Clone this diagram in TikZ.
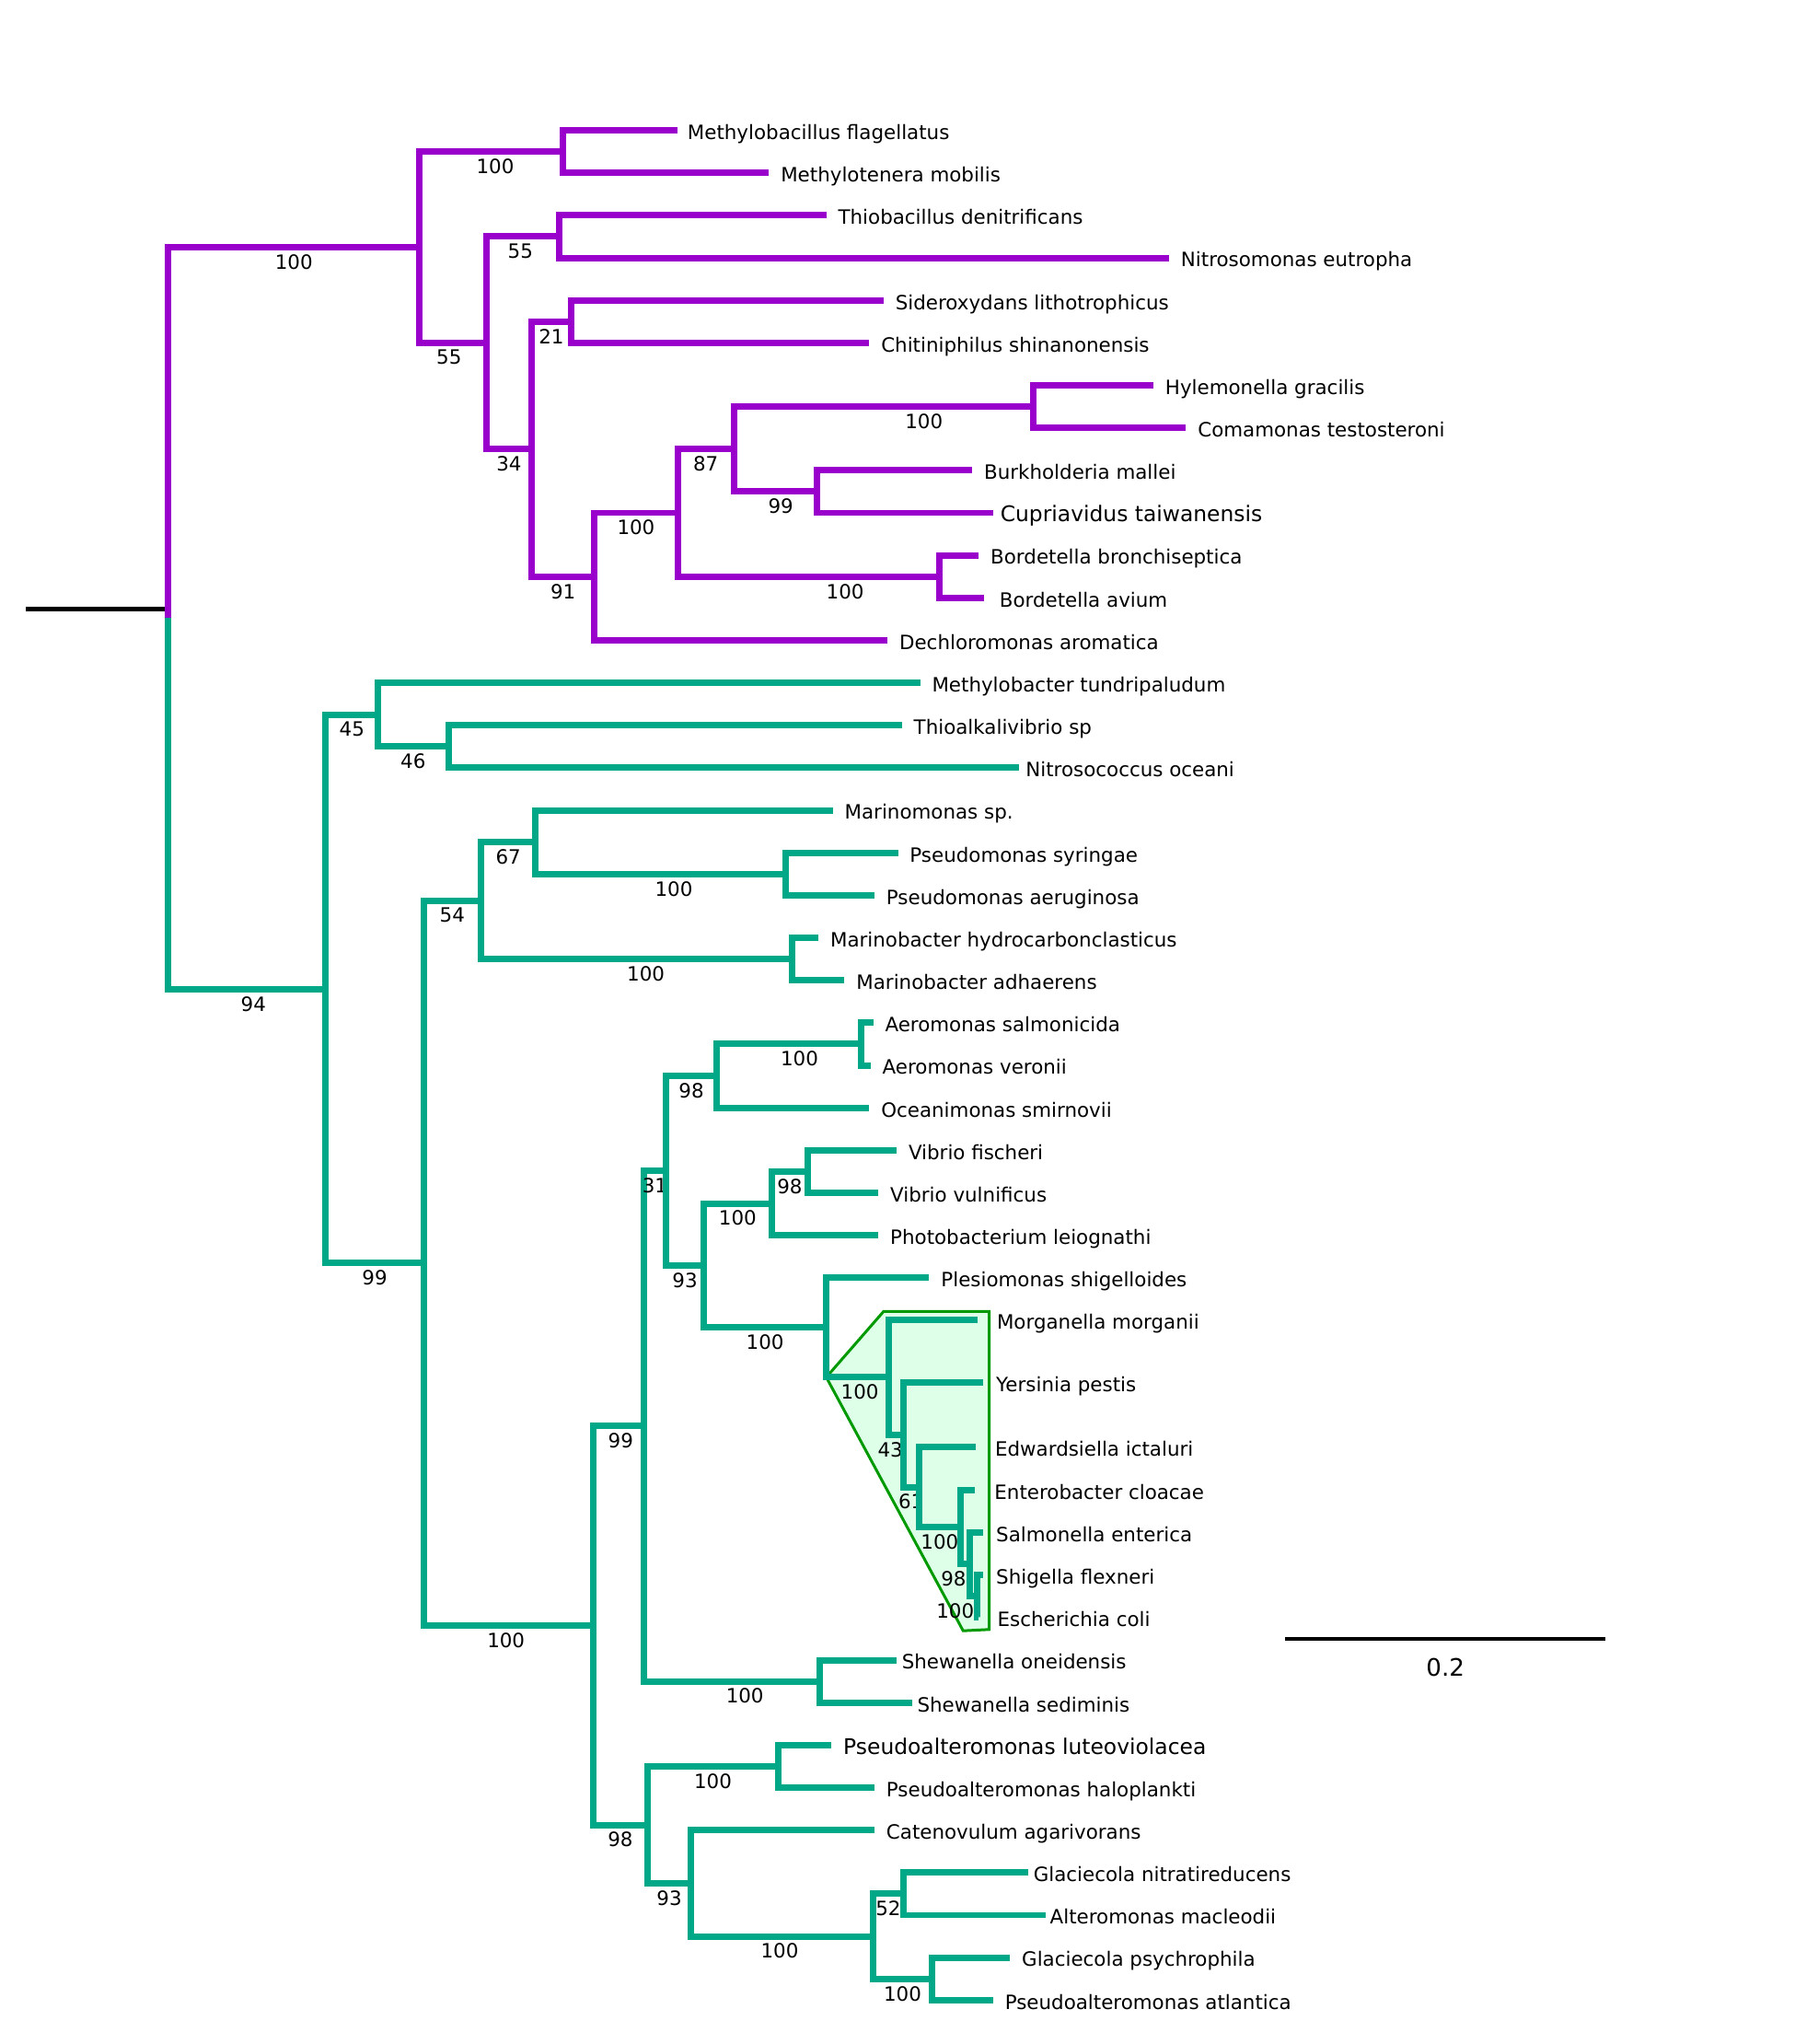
\documentclass[tikz,border=0pt]{standalone}
\usepackage{fontspec}
\setmainfont{DejaVu Sans}
\usetikzlibrary{positioning}
\definecolor{purp}{RGB}{153,0,204}
\definecolor{bgreen}{RGB}{0,168,136}
\definecolor{boxfill}{RGB}{222,255,232}
\definecolor{boxline}{RGB}{0,153,0}
\newcommand{\leaffont}{\fontsize{8.6}{10}\selectfont}
\newcommand{\bigleaffont}{\fontsize{9.4}{11}\selectfont}
\newcommand{\barfont}{\fontsize{10.5}{12}\selectfont}

\begin{document}
\begin{tikzpicture}[x=0.02cm, y=-0.02cm, every node/.style={font=\leaffont},
    leaf/.style={anchor=west, inner xsep=5pt, inner ysep=0pt, text height=8.4pt, text depth=0.5pt},
    bigleaf/.style={leaf, font=\bigleaffont, inner xsep=3pt},
    bs/.style={pos=0.75, below=0.8pt, inner sep=1pt},
    pbr/.style={draw=purp, line width=2.8pt},
    gbr/.style={draw=bgreen, line width=2.8pt}]
    \useasboundingbox (0,0) rectangle (1377,1568);
    % Internal nodes
    \coordinate (stem) at (20,467);
    \coordinate (root) at (129,474.2);
    \coordinate (n55a) at (322,189.7);
    \coordinate (mB) at (432,116.3);
    \coordinate (n55b) at (373,263);
    \coordinate (tN) at (429,181.5);
    \coordinate (n91) at (408,344.5);
    \coordinate (sC) at (438,246.7);
    \coordinate (betaB) at (456,442.3);
    \coordinate (betaA) at (520,393.4);
    \coordinate (hB) at (563,344.5);
    \coordinate (hC) at (793,311.9);
    \coordinate (bC) at (627,377.1);
    \coordinate (bord) at (721,442.3);
    \coordinate (g94) at (250,758.7);
    \coordinate (g45) at (290,548.3);
    \coordinate (thio) at (344,572.7);
    \coordinate (g99b) at (325,969);
    \coordinate (g54) at (369,690.9);
    \coordinate (mar67) at (411,646);
    \coordinate (psy) at (603,670.5);
    \coordinate (mbac) at (608,735.7);
    \coordinate (g100e) at (455,1247);
    \coordinate (g99c) at (494,1094);
    \coordinate (g31) at (511,898.1);
    \coordinate (g98a) at (550,825.4);
    \coordinate (aer) at (661,800.9);
    \coordinate (g93) at (540,970.8);
    \coordinate (g100v) at (592,923.2);
    \coordinate (vib) at (620,898.7);
    \coordinate (ple) at (634,1018.4);
    \coordinate (ent) at (682,1056.5);
    \coordinate (e1) at (693,1100.6);
    \coordinate (e2) at (705,1140.7);
    \coordinate (e3) at (737,1171.5);
    \coordinate (e4) at (744,1199.9);
    \coordinate (e5) at (750,1224.3);
    \coordinate (shew) at (629,1289.8);
    \coordinate (g98d) at (497,1399.9);
    \coordinate (pal) at (597,1355);
    \coordinate (cat) at (530,1444.7);
    \coordinate (alt) at (670,1485.4);
    \coordinate (gla1) at (693,1452.8);
    \coordinate (gla2) at (715,1518);
    % Enterobacteria box
    \filldraw[fill=boxfill, draw=boxline, line width=1.2pt] (ple |- ent) -- (678,1006) -- (759,1006) -- (759,1250) -- (739,1251) -- cycle;
    % Leaves
    \node[leaf, inner xsep=4.1pt] (mfla) at (520,100) {Methylobacillus flagellatus};
    \node[leaf] (mmob) at (590,132.6) {Methylotenera mobilis};
    \node[leaf] (tden) at (634,165.2) {Thiobacillus denitrificans};
    \node[leaf] (neut) at (897,197.8) {Nitrosomonas eutropha};
    \node[leaf] (slit) at (678,230.4) {Sideroxydans lithotrophicus};
    \node[leaf] (cshi) at (667,263) {Chitiniphilus shinanonensis};
    \node[leaf] (hgra) at (885,295.6) {Hylemonella gracilis};
    \node[leaf] (ctes) at (910,328.2) {Comamonas testosteroni};
    \node[leaf] (bmal) at (746,360.8) {Burkholderia mallei};
    \node[bigleaf] (ctai) at (762,393.4) {Cupriavidus taiwanensis};
    \node[leaf] (bbro) at (751,426) {Bordetella bronchiseptica};
    \node[leaf, inner xsep=6.6pt] (bavi) at (755,458.6) {Bordetella avium};
    \node[leaf] (daro) at (681,491.2) {Dechloromonas aromatica};
    \node[leaf] (mtun) at (706,523.8) {Methylobacter tundripaludum};
    \node[leaf] (thsp) at (692,556.4) {Thioalkalivibrio sp};
    \node[leaf, inner xsep=2.7pt] (noce) at (782,589) {Nitrosococcus oceani};
    \node[leaf] (mari) at (639,621.6) {Marinomonas sp.};
    \node[leaf] (psyr) at (689,654.2) {Pseudomonas syringae};
    \node[leaf] (paer) at (671,686.8) {Pseudomonas aeruginosa};
    \node[leaf] (mhyd) at (628,719.4) {Marinobacter hydrocarbonclasticus};
    \node[leaf] (madh) at (648,752) {Marinobacter adhaerens};
    \node[leaf] (asal) at (670,784.6) {Aeromonas salmonicida};
    \node[leaf] (aver) at (668,817.2) {Aeromonas veronii};
    \node[leaf] (osmi) at (667,849.8) {Oceanimonas smirnovii};
    \node[leaf] (vfis) at (688,882.4) {Vibrio fischeri};
    \node[leaf] (vvul) at (674,915) {Vibrio vulnificus};
    \node[leaf] (plei) at (674,947.6) {Photobacterium leiognathi};
    \node[leaf] (pshi) at (713,980.2) {Plesiomonas shigelloides};
    \node[leaf, inner xsep=8.3pt] (mmor) at (750,1012.5) {Morganella morganii};
    \node[leaf, inner xsep=5.7pt] (ypes) at (754,1060.5) {Yersinia pestis};
    \node[leaf, inner xsep=8.1pt] (eict) at (749,1110) {Edwardsiella ictaluri};
    \node[leaf, inner xsep=8.4pt] (eclo) at (748,1143) {Enterobacter cloacae};
    \node[leaf, inner xsep=5.7pt] (sent) at (754,1175.5) {Salmonella enterica};
    \node[leaf, inner xsep=5.7pt] (sfle) at (754,1208) {Shigella flexneri};
    \node[leaf, inner xsep=8pt] (ecol) at (751,1240.5) {Escherichia coli};
    \node[leaf, inner xsep=2.1pt] (sone) at (688,1273.5) {Shewanella oneidensis};
    \node[leaf, inner xsep=2pt] (ssed) at (700,1306.1) {Shewanella sediminis};
    \node[bigleaf, inner xsep=5pt] (plut) at (638,1338.7) {Pseudoalteromonas luteoviolacea};
    \node[leaf] (phal) at (671,1371.3) {Pseudoalteromonas haloplankti};
    \node[leaf] (caga) at (671,1403.9) {Catenovulum agarivorans};
    \node[leaf, inner xsep=2.1pt] (gnit) at (789,1436.5) {Glaciecola nitratireducens};
    \node[leaf, inner xsep=1.9pt] (amac) at (802,1469.1) {Alteromonas macleodii};
    \node[leaf] (gpsy) at (775,1501.7) {Glaciecola psychrophila};
    \node[leaf] (patl) at (762,1534.3) {Pseudoalteromonas atlantica};
    % Root
    \draw[line width=2pt] (stem) -- (stem -| root);
    % Betaproteobacteria
    \draw[pbr] (root) |- (n55a) node[bs] {100};
    \draw[pbr] (n55a) |- (mB) node[bs, xshift=1.7pt] {100};
    \draw[pbr] (n55a) |- (n55b) node[bs, xshift=-1.7pt] {55};
    \draw[pbr] (mB) |- (mfla.west);
    \draw[pbr] (mB) |- (mmob.west);
    \draw[pbr] (n55b) |- (tN) node[bs, xshift=-1pt] {55};
    \draw[pbr] (n55b) |- (n91) node[bs] {34};
    \draw[pbr] (tN) |- (tden.west);
    \draw[pbr] (tN) |- (neut.west);
    \draw[pbr] (n91) |- (sC) node[bs] {21};
    \draw[pbr] (n91) |- (betaB) node[bs] {91};
    \draw[pbr] (sC) |- (slit.west);
    \draw[pbr] (sC) |- (cshi.west);
    \draw[pbr] (betaB) |- (betaA) node[bs] {100};
    \draw[pbr] (betaB) |- (daro.west);
    \draw[pbr] (betaA) |- (hB) node[bs] {87};
    \draw[pbr] (betaA) |- (bord) node[bs, xshift=15.9pt] {100};
    \draw[pbr] (hB) |- (hC) node[bs, xshift=17.6pt] {100};
    \draw[pbr] (hB) |- (bC) node[bs, xshift=2.3pt] {99};
    \draw[pbr] (hC) |- (hgra.west);
    \draw[pbr] (hC) |- (ctes.west);
    \draw[pbr] (bC) |- (bmal.west);
    \draw[pbr] (bC) |- (ctai.west);
    \draw[pbr] (bord) |- (bbro.west);
    \draw[pbr] (bord) |- (bavi.west);
    % Gammaproteobacteria
    \draw[gbr] (root) |- (g94) node[bs, xshift=2.8pt] {94};
    \draw[gbr] (g94) |- (g45) node[bs] {45};
    \draw[gbr] (g94) |- (g99b) node[bs] {99};
    \draw[gbr] (g45) |- (mtun.west);
    \draw[gbr] (g45) |- (thio) node[bs] {46};
    \draw[gbr] (thio) |- (thsp.west);
    \draw[gbr] (thio) |- (noce.west);
    \draw[gbr] (g99b) |- (g54) node[bs] {54};
    \draw[gbr] (g99b) |- (g100e) node[bs, xshift=-1pt] {100};
    \draw[gbr] (g54) |- (mar67) node[bs] {67};
    \draw[gbr] (g54) |- (mbac) node[bs, xshift=4pt] {100};
    \draw[gbr] (mar67) |- (mari.west);
    \draw[gbr] (mar67) |- (psy) node[bs, xshift=5.7pt] {100};
    \draw[gbr] (psy) |- (psyr.west);
    \draw[gbr] (psy) |- (paer.west);
    \draw[gbr] (mbac) |- (mhyd.west);
    \draw[gbr] (mbac) |- (madh.west);
    \draw[gbr] (g100e) |- (g99c) node[bs, xshift=1pt] {99};
    \draw[gbr] (g100e) |- (g98d) node[bs] {98};
    \draw[gbr] (g99c) |- (g31) node[bs] {31};
    \draw[gbr] (g99c) |- (shew) node[bs, xshift=5.7pt] {100};
    \draw[gbr] (g31) |- (g98a) node[bs] {98};
    \draw[gbr] (g31) |- (g93) node[bs] {93};
    \draw[gbr] (g98a) |- (aer) node[bs, xshift=4.5pt] {100};
    \draw[gbr] (g98a) |- (osmi.west);
    \draw[gbr] (aer) |- (asal.west);
    \draw[gbr] (aer) |- (aver.west);
    \draw[gbr] (g93) |- (g100v) node[bs] {100};
    \draw[gbr] (g93) |- (ple) node[bs] {100};
    \draw[gbr] (g100v) |- (vib) node[bs] {98};
    \draw[gbr] (g100v) |- (plei.west);
    \draw[gbr] (vib) |- (vfis.west);
    \draw[gbr] (vib) |- (vvul.west);
    \draw[gbr] (ple) |- (pshi.west);
    \draw[gbr] (ple) |- (ent) node[bs, xshift=1pt] {100};
    \draw[gbr] (ent) |- (mmor.west);
    \draw[gbr] (ent) |- (e1) node[bs, xshift=-2.5pt] {43};
    \draw[gbr] (e1) |- (ypes.west);
    \draw[gbr] (e1) |- (e2) node[bs] {61};
    \draw[gbr] (e2) |- (eict.west);
    \draw[gbr] (e2) |- (e3) node[bs] {100};
    \draw[gbr] (e3) |- (eclo.west);
    \draw[gbr] (e3) |- (e4) node[bs, xshift=-5pt] {98};
    \draw[gbr] (e4) |- (sent.west);
    \draw[gbr] (e4) |- (e5) node[bs, xshift=-8pt] {100};
    \draw[gbr] (e5) |- (sfle.west);
    \draw[gbr] (e5) |- (ecol.west);
    \draw[gbr] (shew) |- (sone.west);
    \draw[gbr] (shew) |- (ssed.west);
    \draw[gbr] (g98d) |- (pal) node[bs] {100};
    \draw[gbr] (g98d) |- (cat) node[bs] {93};
    \draw[gbr] (pal) |- (plut.west);
    \draw[gbr] (pal) |- (phal.west);
    \draw[gbr] (cat) |- (caga.west);
    \draw[gbr] (cat) |- (alt) node[bs, xshift=-1pt] {100};
    \draw[gbr] (alt) |- (gla1) node[bs] {52};
    \draw[gbr] (alt) |- (gla2) node[bs] {100};
    \draw[gbr] (gla1) |- (gnit.west);
    \draw[gbr] (gla1) |- (amac.west);
    \draw[gbr] (gla2) |- (gpsy.west);
    \draw[gbr] (gla2) |- (patl.west);
    % Scale bar
    \coordinate (sbl) at (986,1257);
    \coordinate (sbr) at (1232,1257);
    \draw[line width=1.6pt] (sbl) -- (sbr) node[midway, below=7pt, inner sep=1pt, font=\barfont] {0.2};
\end{tikzpicture}
\end{document}
